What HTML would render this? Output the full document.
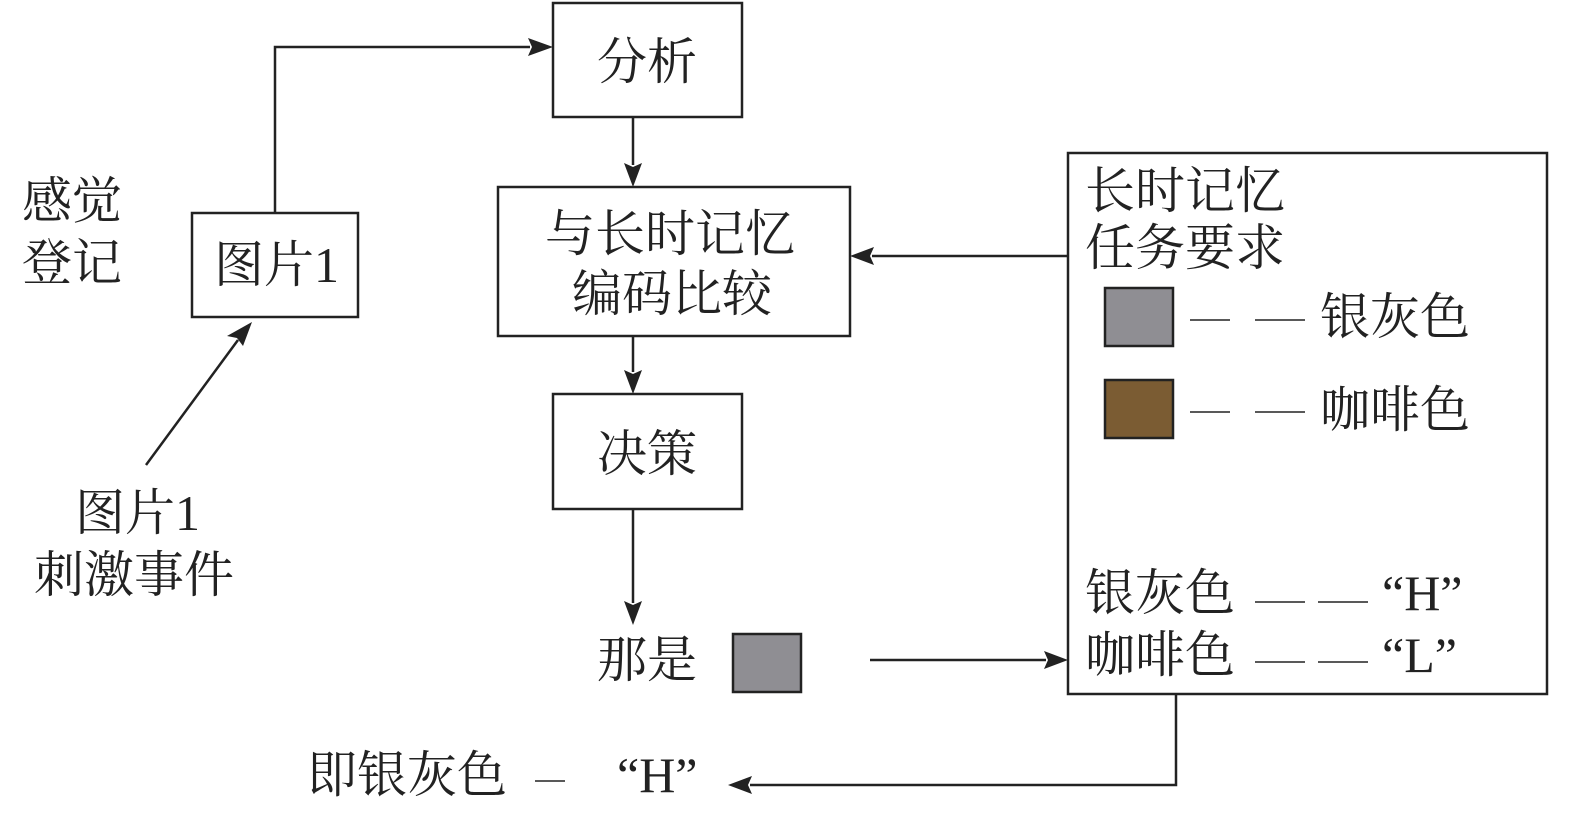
<!DOCTYPE html>
<html><head><meta charset="utf-8"><style>
html,body{margin:0;padding:0;background:#fff;}
svg{display:block;}
text{font-family:"Liberation Serif","Noto Serif CJK SC",serif;fill:#222;font-size:50px;}
</style></head><body>
<svg width="1575" height="813" viewBox="0 0 1575 813" xmlns="http://www.w3.org/2000/svg">
<defs>
<marker id="a" markerWidth="10" markerHeight="10" refX="9" refY="5" orient="auto" markerUnits="userSpaceOnUse" viewBox="0 0 10 10">
</marker>
</defs>
<g fill="none" stroke="#222" stroke-width="2.5">
<rect x="553" y="3" width="189" height="114"/>
<rect x="498" y="187" width="352" height="149"/>
<rect x="553" y="394" width="189" height="115"/>
<rect x="192" y="213" width="166" height="104"/>
<rect x="1068" y="153" width="479" height="541"/>
<polyline points="275,213 275,47 530,47"/>
<line x1="633" y1="117" x2="633" y2="165"/>
<line x1="1068" y1="256" x2="872" y2="256"/>
<line x1="633" y1="336" x2="633" y2="372"/>
<line x1="633" y1="509" x2="633" y2="603"/>
<line x1="870" y1="660" x2="1046" y2="660"/>
<polyline points="1176,694 1176,785 750,785"/>
<line x1="146" y1="465" x2="238" y2="340"/>
<line x1="1190" y1="320" x2="1230" y2="320" stroke-width="1.5"/>
<line x1="1255" y1="320" x2="1305" y2="320" stroke-width="1.5"/>
<line x1="1190" y1="412" x2="1230" y2="412" stroke-width="1.5"/>
<line x1="1255" y1="412" x2="1305" y2="412" stroke-width="1.5"/>
<line x1="1255" y1="602" x2="1305" y2="602" stroke-width="1.5"/>
<line x1="1318" y1="602" x2="1368" y2="602" stroke-width="1.5"/>
<line x1="1255" y1="662" x2="1305" y2="662" stroke-width="1.5"/>
<line x1="1318" y1="662" x2="1368" y2="662" stroke-width="1.5"/>
<line x1="535" y1="781" x2="565" y2="781" stroke-width="1.5"/>
</g>
<g fill="#222">
<polygon points="553,47 528,38 532,47 528,56"/>
<polygon points="633,187 624,163 633,167 642,163"/>
<polygon points="850,256 874,247 870,256 874,265"/>
<polygon points="633,394 624,370 633,374 642,370"/>
<polygon points="633,625 624,601 633,605 642,601"/>
<polygon points="1068,660 1044,651 1048,660 1044,669"/>
<polygon points="728,785 752,776 748,785 752,794"/>
<polygon points="252,322 227,336 237,338 243,346"/>
</g>
<rect x="1105" y="288" width="68" height="58" fill="#8f8e93" stroke="#222" stroke-width="2.5"/>
<rect x="1105" y="380" width="68" height="58" fill="#7b5c33" stroke="#222" stroke-width="2.5"/>
<rect x="733" y="634" width="68" height="58" fill="#8f8e93" stroke="#222" stroke-width="2.5"/>
<text x="597" y="79">分析</text>
<text x="545" y="251">与长时记忆</text>
<text x="572" y="311">编码比较</text>
<text x="597" y="471">决策</text>
<text x="214" y="282">图片1</text>
<text x="22" y="218">感觉</text>
<text x="22" y="280">登记</text>
<text x="75" y="530">图片1</text>
<text x="34" y="592">刺激事件</text>
<text x="1085" y="208">长时记忆</text>
<text x="1085" y="265">任务要求</text>
<text x="1320" y="334">银灰色</text>
<text x="1320" y="427">咖啡色</text>
<text x="1085" y="610">银灰色</text>
<text x="1382" y="610">“H”</text>
<text x="1085" y="672">咖啡色</text>
<text x="1382" y="672">“L”</text>
<text x="597" y="677">那是</text>
<text x="307" y="792">即银灰色</text>
<text x="617" y="792">“H”</text>
</svg>
</body></html>
